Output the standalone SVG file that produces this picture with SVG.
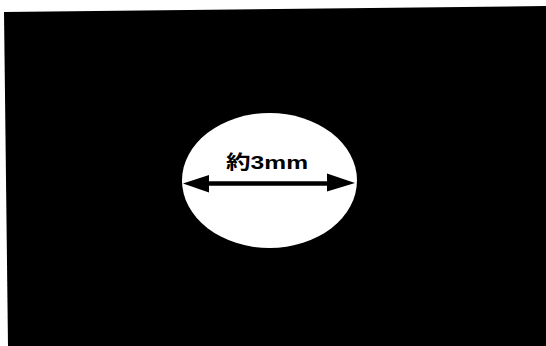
<svg xmlns="http://www.w3.org/2000/svg" width="546" height="346" viewBox="0 0 546 346">
  <defs>
    <style>
      .lbl { font-family: "Liberation Sans", "Noto Sans CJK JP", sans-serif; font-weight: bold; font-size: 19px; fill: #000; }
    </style>
  </defs>
  <rect x="0" y="0" width="546" height="346" fill="#ffffff"/>
  <polygon points="4,12 546,6 546,346 8,346" fill="#000000"/>
  <g id="spot">
    <ellipse cx="269.5" cy="180.5" rx="87.5" ry="67.5" fill="#ffffff"/>
  </g>
  <g id="connectors">
    <line x1="205" y1="183.5" x2="330" y2="183.5" stroke="#000" stroke-width="4.5"/>
    <polygon points="183,183.5 209,175 209,192.5" fill="#000"/>
    <polygon points="355,183 327,173.5 327,191.5" fill="#000"/>
  </g>
  <g id="label">
    <text class="lbl" x="226" y="169" textLength="82" lengthAdjust="spacingAndGlyphs">約3mm</text>
  </g>
</svg>
